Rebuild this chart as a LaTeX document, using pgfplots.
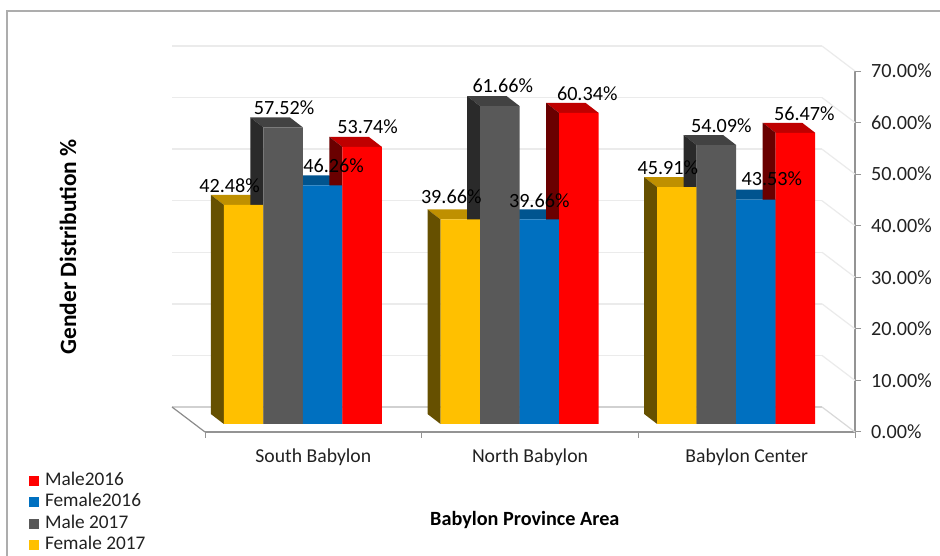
\documentclass[border=0pt]{standalone}
\usepackage{fontspec}
\setmainfont{Carlito}
\usepackage{pgfplots}
\usepackage{pgfplotstable}
\pgfplotsset{compat=1.18}
\pgfplotsset{/pgf/number format/assume math mode=true}

\definecolor{yFront}{HTML}{FFC000}\definecolor{yTop}{HTML}{BF9000}\definecolor{ySide}{HTML}{665000}
\definecolor{gFront}{HTML}{595959}\definecolor{gTop}{HTML}{424242}\definecolor{gSide}{HTML}{2A2A2A}
\definecolor{bFront}{HTML}{0070C0}\definecolor{bTop}{HTML}{00548F}\definecolor{bSide}{HTML}{003A66}
\definecolor{rFront}{HTML}{FF0000}\definecolor{rTop}{HTML}{BF0000}\definecolor{rSide}{HTML}{6A0000}
\definecolor{labelInk}{HTML}{222222}

% One table per series: group position and percentage
\pgfplotstableread{
x v
0.5 42.48
1.5 39.66
2.5 45.91
}\femaleSeventeen
\pgfplotstableread{
x v
0.5 57.52
1.5 61.66
2.5 54.09
}\maleSeventeen
\pgfplotstableread{
x v
0.5 46.26
1.5 39.66
2.5 43.53
}\femaleSixteen
\pgfplotstableread{
x v
0.5 53.74
1.5 60.34
2.5 56.47
}\maleSixteen
% Data labels with their offsets from the group centre and the bar top
\pgfplotstableread{
x v dx dy
0.5 42.48 -73.25 19
0.5 57.52 -18.75 20
0.5 46.26 30.75 20
0.5 53.74 64.75 20
1.5 39.66 -68.25 23
1.5 61.66 -16.75 20
1.5 39.66 19.75 19
1.5 60.34 67.75 19
2.5 45.91 -68.25 20
2.5 54.09 -14.75 19
2.5 43.53 35.75 21
2.5 56.47 68.25 19
}\barLabels

% Axis scale: 650pt for 3 groups, 361pt for 70 percent
\pgfmathsetmacro\unitX{650/3}
\pgfmathsetmacro\unitY{361/70}
\pgfmathsetmacro\depthX{-13/\unitX}
\pgfmathsetmacro\depthY{10/\unitY}
\pgfmathsetmacro\barW{39.5/\unitX}

% Top face of a bar: group centre, shift in pt, value, colour
\newcommand\topface[4]{%
  \pgfmathsetmacro\xa{#1+#2/\unitX}%
  \pgfmathsetmacro\xb{\xa+\barW}%
  \pgfmathsetmacro\xc{\xb+\depthX}%
  \pgfmathsetmacro\xd{\xa+\depthX}%
  \pgfmathsetmacro\yb{#3+\depthY}%
  \addplot[fill=#4,draw=none,forget plot] coordinates {(\xa,#3) (\xb,#3) (\xc,\yb) (\xd,\yb)} -- cycle;
}
% Left side face of a bar: group centre, shift in pt, value, colour
\newcommand\sideface[4]{%
  \pgfmathsetmacro\xa{#1+#2/\unitX}%
  \pgfmathsetmacro\xd{\xa+\depthX}%
  \pgfmathsetmacro\yb{#3+\depthY}%
  \addplot[fill=#4,draw=none,forget plot] coordinates {(\xa,0) (\xa,#3) (\xd,\yb) (\xd,\depthY)} -- cycle;
}

\pgfplotsset{
  chartbox/.style={scale only axis,width=650pt,height=361pt,
    xmin=0,xmax=3,ymin=0,ymax=70,clip=false},
  front/.style={ybar,bar width=39.5pt,bar shift=#1pt,draw=none},
  swatch/.style={legend image code/.code={\fill[##1,draw=none] (0pt,-5pt) rectangle (10pt,5pt);}},
}

\begin{document}
\begin{tikzpicture}[x=1pt,y=1pt]
\useasboundingbox (0,0) rectangle (940,556);
\fill[white] (0,0) rectangle (940,556);
\draw[color=black!32,line width=1.2pt] (7,0) -- (7,545) -- (940,545);

% Back wall with its gridlines
\begin{axis}[chartbox,at={(172pt,149pt)},anchor=south west,
  axis line style={draw=none},tick style={draw=none},
  xtick=\empty,ytick={10,20,...,70},yticklabels={},
  ymajorgrids,grid style={color=black!8,line width=1.3pt}]
\addplot[color=black!18,line width=1.3pt] coordinates {(0,0) (3,0)};
\end{axis}

% Front plane: value axis on the right, category axis below, floor and side wall
\begin{axis}[chartbox,at={(205pt,124pt)},anchor=south west,
  font=\fontsize{20.2}{24}\selectfont,
  axis x line*=bottom,axis y line*=right,
  axis line style={color=black!42,line width=1.2pt},
  tick style={color=black!42,line width=1pt},
  tick align=outside,major tick length=6pt,
  xtick={0,1,2,3},xticklabels={,,,},
  extra x ticks={0.5,1.5,2.5},
  extra x tick labels={South Babylon,North Babylon,Babylon Center},
  extra x tick style={major tick length=0pt,
    tick label style={font=\fontsize{19.7}{24}\selectfont,text=labelInk,inner sep=0pt,yshift=-17pt}},
  ytick={0,10,...,70},
  yticklabel={\pgfmathprintnumber[fixed,fixed zerofill,precision=2]{\tick}\%},
  yticklabel style={text=labelInk,anchor=west,inner sep=0pt,xshift=10pt},
  xlabel={\textbf{Babylon Province Area}},
  xlabel style={at={(axis description cs:0.492,-0.2438)},anchor=center,text=black,inner sep=0pt},
  ylabel={\textbf{Gender Distribution \%}},
  ylabel style={font=\fontsize{23.4}{28}\selectfont,at={(axis description cs:-0.2108,0.513)},anchor=center,rotate=0,text=black,inner sep=0pt},
  ]
\addplot[color=black!45,line width=1.2pt,forget plot] coordinates {(0,0) (-0.1523,4.848)};
\addplot[color=black!15,line width=1.2pt,forget plot] coordinates {(3,0) (2.8477,4.848)};
\addplot[color=black!8,line width=1.2pt,forget plot] coordinates {(3,10) (2.8477,14.848)};
\addplot[color=black!8,line width=1.2pt,forget plot] coordinates {(3,20) (2.8477,24.848)};
\addplot[color=black!8,line width=1.2pt,forget plot] coordinates {(3,30) (2.8477,34.848)};
\addplot[color=black!8,line width=1.2pt,forget plot] coordinates {(3,40) (2.8477,44.848)};
\addplot[color=black!8,line width=1.2pt,forget plot] coordinates {(3,50) (2.8477,54.848)};
\addplot[color=black!8,line width=1.2pt,forget plot] coordinates {(3,60) (2.8477,64.848)};
\addplot[color=black!8,line width=1.2pt,forget plot] coordinates {(3,70) (2.8477,74.848)};
\end{axis}

% Bars stand a little behind the front plane
\begin{axis}[chartbox,at={(194.5pt,132pt)},anchor=south west,hide axis,
  font=\fontsize{19.3}{23}\selectfont,
  reverse legend,
  legend cell align=left,
  legend style={at={(axis description cs:-0.2546,-0.1358)},anchor=north west,
    draw=none,fill=none,inner sep=0pt,outer sep=0pt,
    row sep=5.3pt,column sep=6pt,text=labelInk,
    nodes={inner sep=0pt,text height=12.5pt,text depth=3.5pt}},
  ]
% Top faces first, the side faces over them, the fronts over both
\topface{0.5}{-79}{42.48}{yTop}\topface{1.5}{-79}{39.66}{yTop}\topface{2.5}{-79}{45.91}{yTop}
\topface{0.5}{-39.5}{57.52}{gTop}\topface{1.5}{-39.5}{61.66}{gTop}\topface{2.5}{-39.5}{54.09}{gTop}
\topface{0.5}{0}{46.26}{bTop}\topface{1.5}{0}{39.66}{bTop}\topface{2.5}{0}{43.53}{bTop}
\topface{0.5}{39.5}{53.74}{rTop}\topface{1.5}{39.5}{60.34}{rTop}\topface{2.5}{39.5}{56.47}{rTop}
\sideface{0.5}{-79}{42.48}{ySide}\sideface{1.5}{-79}{39.66}{ySide}\sideface{2.5}{-79}{45.91}{ySide}
\sideface{0.5}{-39.5}{57.52}{gSide}\sideface{1.5}{-39.5}{61.66}{gSide}\sideface{2.5}{-39.5}{54.09}{gSide}
\sideface{0.5}{0}{46.26}{bSide}\sideface{1.5}{0}{39.66}{bSide}\sideface{2.5}{0}{43.53}{bSide}
\sideface{0.5}{39.5}{53.74}{rSide}\sideface{1.5}{39.5}{60.34}{rSide}\sideface{2.5}{39.5}{56.47}{rSide}

\addplot[front=-59.25,fill=yFront,swatch] table[x=x,y=v] {\femaleSeventeen};
\addlegendentry{Female 2017}
\addplot[front=-19.75,fill=gFront,swatch] table[x=x,y=v] {\maleSeventeen};
\addlegendentry{Male 2017}
\addplot[front=19.75,fill=bFront,swatch] table[x=x,y=v] {\femaleSixteen};
\addlegendentry{Female2016}
\addplot[front=59.25,fill=rFront,swatch] table[x=x,y=v] {\maleSixteen};
\addlegendentry{Male2016}
\end{axis}

% Percent labels sit on top of everything, in the same coordinates as the bars
\begin{axis}[chartbox,at={(194.5pt,132pt)},anchor=south west,hide axis,
  font=\fontsize{20.2}{24}\selectfont]
\addplot[draw=none,mark=none,forget plot,
  visualization depends on={\thisrow{dx}\as\labeldx},
  visualization depends on={\thisrow{dy}\as\labeldy},
  point meta=y,
  nodes near coords={\pgfmathprintnumber[fixed,fixed zerofill,precision=2]{\pgfplotspointmeta}\%},
  every node near coord/.append style={anchor=center,inner sep=0pt,text=black,
    xshift=\labeldx pt,yshift=\labeldy pt}]
  table[x=x,y=v] {\barLabels};
\end{axis}
\end{tikzpicture}
\end{document}
